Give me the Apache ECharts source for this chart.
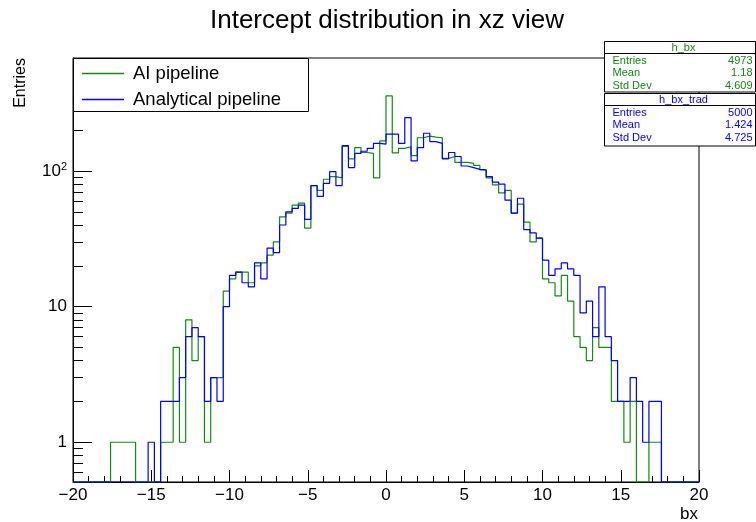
<!DOCTYPE html>
<html>
<head>
<meta charset="utf-8">
<script src="https://cdn.jsdelivr.net/npm/echarts@6/dist/echarts.min.js"></script>
<style>
  html, body { margin: 0; padding: 0; background: #ffffff; }
  #chart { width: 756px; height: 522px; }
</style>
</head>
<body>
<div id="chart"></div>
<script>
// Histogram binning: 100 bins of width 0.4 between -20 and 20
const xMin = -20;
const xMax = 20;
const binWidth = 0.4;

// Bin contents, AI pipeline (h_bx)
const aiCounts = [
  0, 0, 0, 0, 0, 0, 1, 1, 1, 1,
  0, 0, 0, 0, 1, 1, 5, 1, 8, 4,
  6, 1, 3, 3, 13, 16, 18, 18, 15, 20,
  21, 24, 30, 46, 49, 56, 58, 38, 78, 72,
  87, 91, 89, 152, 123, 149, 137, 135, 89, 167,
  358, 136, 147, 151, 130, 176, 181, 178, 176, 124,
  128, 116, 116, 114, 110, 102, 89, 79, 69, 72,
  49, 57, 42, 30, 32, 16, 15, 12, 17, 11,
  6, 5, 4, 7, 5, 5, 2, 2, 1, 2,
  0, 0, 1, 1, 0, 0, 0, 0, 0, 0
];

// Bin contents, analytical pipeline (h_bx_trad)
const analyticalCounts = [
  0, 0, 0, 0, 0, 0, 0, 0, 0, 0,
  0, 0, 1, 0, 2, 2, 2, 3, 6, 7,
  6, 2, 3, 2, 10, 17, 18, 15, 14, 21,
  16, 27, 25, 40, 50, 53, 56, 44, 78, 65,
  81, 99, 78, 154, 106, 135, 140, 147, 160, 158,
  187, 187, 160, 248, 119, 149, 190, 165, 160, 123,
  137, 128, 109, 106, 103, 102, 91, 83, 80, 61,
  49, 63, 37, 35, 32, 22, 17, 19, 21, 19,
  17, 9, 11, 6, 14, 6, 4, 2, 2, 3,
  2, 1, 2, 2, 0, 0, 0, 0, 0, 0
];

// Axis ranges and ticks
const yMin = 0.509;
const yMax = 682;
const xMajorStep = 5;
const xMinorTicks = [-19, -18, -17, -16, -14, -13, -12, -11, -9, -8, -7, -6, -4, -3, -2, -1,
                     1, 2, 3, 4, 6, 7, 8, 9, 11, 12, 13, 14, 16, 17, 18, 19];
const yMajorTicks = [1, 10, 100];
const yMinorTicks = [0.6, 0.7, 0.8, 0.9, 2, 3, 4, 5, 6, 7, 8, 9,
                     20, 30, 40, 50, 60, 70, 80, 90, 200, 300, 400, 500, 600];

// Text
const chartTitle = 'Intercept distribution in xz view';
const xTitle = 'bx';
const yTitle = 'Entries';
const seriesNames = ['AI pipeline', 'Analytical pipeline'];
const statsAI = [['h_bx'], ['Entries', '4973'], ['Mean', '1.18'], ['Std Dev', '4.609']];
const statsAnalytical = [['h_bx_trad'], ['Entries', '5000'], ['Mean', '1.424'], ['Std Dev', '4.725']];

const GREEN = '#138a13';
const BLUE = '#0000ff';
const FONT = '"Liberation Sans", Arial, Helvetica, sans-serif';

// Turn bin contents into step-line vertices; empty bins sit on the frame floor
function stepPoints(counts) {
  const pts = counts.map((c, i) => [xMin + i * binWidth, c > 0 ? c : yMin]);
  pts.push([xMax, pts[pts.length - 1][1]]);
  return pts;
}

function txt(x, y, text, opts) {
  const o = opts || {};
  return {
    type: 'text', x: x, y: y, z: 200, rotation: o.rotation || 0,
    style: {
      text: text, fill: o.color || '#000', fontSize: o.size || 11, fontFamily: FONT,
      align: o.align || 'left', verticalAlign: o.valign || 'middle',
      textAlign: o.align || 'left', textVerticalAlign: o.valign || 'middle'
    }
  };
}

// Statistics panel: title row, separator, then name/value rows
function statsBox(rows, color, top, height) {
  const left = 604.5, width = 151;
  const els = [
    { type: 'rect', z: 190, shape: { x: left, y: top, width: width, height: height },
      style: { fill: '#fff', stroke: '#000', lineWidth: 1 } },
    { type: 'rect', z: 195, shape: { x: left, y: top + 11.5, width: width, height: 1 },
      style: { fill: '#000' } },
    txt(left + 79, top + 6.5, rows[0][0], { color: color, align: 'center' })
  ];
  for (let r = 1; r < rows.length; r++) {
    const y = top + 19 + (r - 1) * 12.8;
    els.push(txt(left + 8, y, rows[r][0], { color: color }));
    els.push(txt(left + width - 3, y, rows[r][1], { color: color, align: 'right' }));
  }
  return els;
}

const tickStyle = { color: '#000', width: 1 };

const chart = echarts.init(document.getElementById('chart'), null, { renderer: 'canvas' });

chart.setOption({
  animation: false,
  backgroundColor: '#ffffff',
  grid: { left: 73, top: 58, width: 626, height: 424, show: true, borderColor: '#000', borderWidth: 1, backgroundColor: 'transparent' },
  legend: {
    data: seriesNames, orient: 'vertical', left: 82, top: 63.5, z: 250,
    icon: 'rect', itemWidth: 42, itemHeight: 1.3, itemGap: 6,
    padding: 0, selectedMode: false,
    textStyle: { fontSize: 18.5, fontFamily: FONT, color: '#000', lineHeight: 20, padding: [0, 0, 0, 4] }
  },
  xAxis: [
    {
      type: 'value', min: xMin, max: xMax, interval: xMajorStep, position: 'bottom',
      axisLine: { onZero: false, lineStyle: { color: '#000', width: 1 } },
      axisTick: { inside: true, length: 12, lineStyle: tickStyle },
      minorTick: { show: false },
      splitLine: { show: false },
      axisLabel: {
        color: '#000', fontSize: 17, fontFamily: FONT, margin: 5,
        formatter: v => String(v).replace('-', '\u2212')
      }
    },
    {
      type: 'value', min: xMin, max: xMax, position: 'bottom',
      axisLine: { show: false, onZero: false },
      axisTick: { show: true, inside: true, length: 6, customValues: xMinorTicks, lineStyle: tickStyle },
      axisLabel: { show: false },
      splitLine: { show: false }
    }
  ],
  yAxis: [
    {
      type: 'log', logBase: 10, min: yMin, max: yMax, position: 'left',
      axisLine: { show: true, onZero: false, lineStyle: { color: '#000', width: 1 } },
      axisTick: { show: true, inside: true, length: 19, customValues: yMajorTicks, lineStyle: tickStyle },
      splitLine: { show: false },
      minorTick: { show: false },
      axisLabel: {
        customValues: yMajorTicks, color: '#000', fontSize: 17, fontFamily: FONT, margin: 6,
        formatter: v => {
          const e = Math.round(Math.log10(v));
          if (e <= 1) return String(Math.round(v));
          return '{b|10}{s|' + e + '}';
        },
        rich: {
          b: { fontSize: 17, fontFamily: FONT, color: '#000', lineHeight: 20 },
          s: { fontSize: 11, fontFamily: FONT, color: '#000', lineHeight: 11, verticalAlign: 'top' }
        }
      }
    },
    {
      type: 'log', logBase: 10, min: yMin, max: yMax, position: 'left',
      axisLine: { show: false, onZero: false },
      axisTick: { show: true, inside: true, length: 10, customValues: yMinorTicks, lineStyle: tickStyle },
      axisLabel: { show: false },
      splitLine: { show: false }
    }
  ],
  series: [
    {
      name: seriesNames[0], type: 'line', step: 'end', symbol: 'none',
      data: stepPoints(aiCounts), xAxisIndex: 0, yAxisIndex: 0,
      lineStyle: { color: GREEN, width: 1.2 }, itemStyle: { color: GREEN }, z: 3
    },
    {
      name: seriesNames[1], type: 'line', step: 'end', symbol: 'none',
      data: stepPoints(analyticalCounts), xAxisIndex: 0, yAxisIndex: 0,
      lineStyle: { color: BLUE, width: 1.2 }, itemStyle: { color: BLUE }, z: 4
    }
  ],
  graphic: [
    txt(387, 21, chartTitle, { size: 26, align: 'center' }),
    txt(20.5, 58, yTitle, { size: 16, align: 'right', rotation: Math.PI / 2 }),
    txt(698, 514, xTitle, { size: 17, align: 'right' }),
    { type: 'rect', z: 190, shape: { x: 73.5, y: 58.5, width: 235, height: 53 },
      style: { fill: '#fff', stroke: '#000', lineWidth: 1 } },
    ...statsBox(statsAI, GREEN, 41.5, 50.5),
    ...statsBox(statsAnalytical, BLUE, 93.5, 52.5)
  ]
});
</script>
</body>
</html>
